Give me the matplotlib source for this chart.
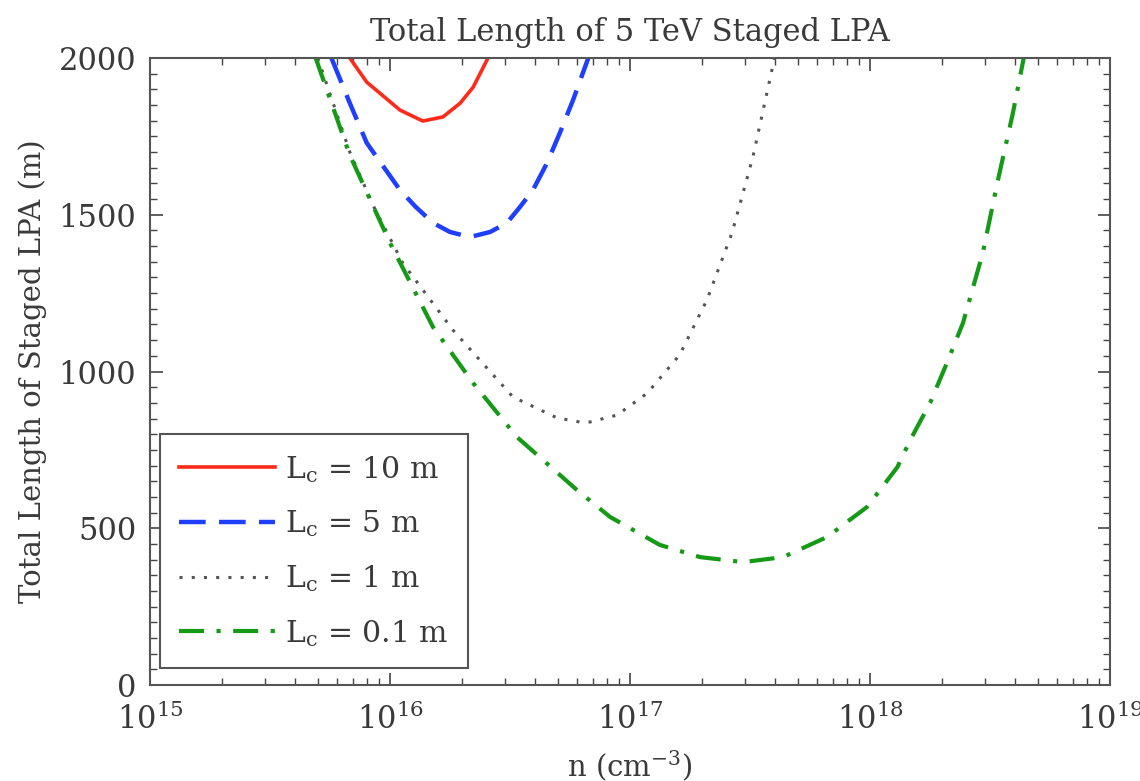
import numpy as np
import matplotlib
matplotlib.use("Agg")
import matplotlib.pyplot as plt
from matplotlib.ticker import MultipleLocator, LogLocator, NullFormatter

plt.rcParams['font.family'] = ['DejaVu Serif']
plt.rcParams['mathtext.fontset'] = 'dejavuserif'

# plasma density (cm^-3) and total length (m)
n_10m = [6.8e15, 8.0e15, 1.10e16, 1.37e16, 1.66e16, 1.96e16, 2.22e16, 2.56e16]
L_10m = [2000, 1923, 1834, 1799, 1812, 1856, 1907, 2000]

n_5m = [5.7e15, 6.8e15, 8.0e15, 1.10e16, 1.28e16, 1.51e16, 1.78e16, 2.15e16,
        2.61e16, 3.07e16, 3.48e16, 3.94e16, 4.51e16, 5.1e16, 5.79e16, 6.7e16]
L_5m = [2000, 1856, 1729, 1579, 1525, 1474, 1445, 1429,
        1445, 1474, 1525, 1579, 1665, 1761, 1866, 2000]

n_1m = [5.0e15, 6.8e15, 8.5e15, 1.13e16, 1.83e16, 3.25e16, 4.97e16, 6.17e16,
        6.81e16, 8.83e16, 1.18e17, 1.61e17, 2.09e17, 2.66e17, 3.25e17, 4.0e17]
L_1m = [2000, 1700, 1530, 1346, 1132, 919, 852, 839,
        839, 861, 931, 1053, 1228, 1442, 1684, 2000]

n_01m = [4.9e15, 6.8e15, 1.0e16, 1.51e16, 2.22e16, 3.38e16, 6.01e16, 8.26e16,
         1.33e17, 1.96e17, 2.96e17, 4.34e17, 6.62e17, 9.72e17, 1.30e18, 1.47e18,
         1.78e18, 2.09e18, 2.44e18, 2.95e18, 3.39e18, 3.94e18, 4.37e18]
L_01m = [2000, 1690, 1410, 1142, 963, 791, 622, 536,
         447, 408, 392, 408, 472, 568, 695, 781,
         900, 1027, 1155, 1378, 1601, 1825, 2000]

labels = [r'L$_\mathrm{c}$ = 10 m', r'L$_\mathrm{c}$ = 5 m',
          r'L$_\mathrm{c}$ = 1 m', r'L$_\mathrm{c}$ = 0.1 m']

fig = plt.figure(figsize=(11.4, 7.81), dpi=100)
ax = fig.add_axes([0.1316, 0.1229, 0.8421, 0.8028])

ax.plot(n_10m, L_10m, color='#ff2a1a', lw=2.6, ls='-', label=labels[0])
ax.plot(n_5m, L_5m, color='#1f3fff', lw=3.2, ls=(0, (6, 3)), label=labels[1])
ax.plot(n_1m, L_1m, color='#555555', lw=2.2, ls=(0, (1, 3)), label=labels[2])
ax.plot(n_01m, L_01m, color='#159a15', lw=3.0, ls=(0, (6, 3, 1, 3)), label=labels[3])

ax.set_xscale('log')
ax.set_xlim(1e15, 1e19)
ax.set_ylim(0, 2000)
ax.yaxis.set_major_locator(MultipleLocator(500))
ax.yaxis.set_minor_locator(MultipleLocator(50))
ax.xaxis.set_major_locator(LogLocator(base=10, numticks=10))
ax.xaxis.set_minor_locator(LogLocator(base=10, subs=np.arange(2, 10), numticks=10))
ax.xaxis.set_minor_formatter(NullFormatter())

ax.tick_params(which='both', direction='in', top=True, right=True, labelsize=22,
               colors='#444444', labelcolor='#3a3a3a')
ax.tick_params(which='major', length=9, width=1.2)
ax.tick_params(which='minor', length=5, width=1.0)
ax.tick_params(axis='x', which='major', pad=13)
ax.tick_params(axis='y', which='major', pad=10)
for s in ax.spines.values():
    s.set_color('#555555')
    s.set_linewidth(1.5)

ax.set_title('Total Length of 5 TeV Staged LPA', fontsize=22, color='#3a3a3a', pad=12)
ax.set_xlabel(r'n (cm$^{\mathrm{-3}}$)', fontsize=21, color='#3a3a3a', labelpad=9)
ax.set_ylabel('Total Length of Staged LPA (m)', fontsize=21, color='#3a3a3a', labelpad=8)

leg = ax.legend(loc='lower left', bbox_to_anchor=(0.0104, 0.027), borderaxespad=0,
                fontsize=21.5, handlelength=3.2, labelspacing=0.8, handletextpad=0.35,
                borderpad=0.65, fancybox=False, framealpha=1, edgecolor='#555555')
leg.get_frame().set_linewidth(1.5)
for t in leg.get_texts():
    t.set_color('#3a3a3a')

fig.savefig('out.png', dpi=100)
